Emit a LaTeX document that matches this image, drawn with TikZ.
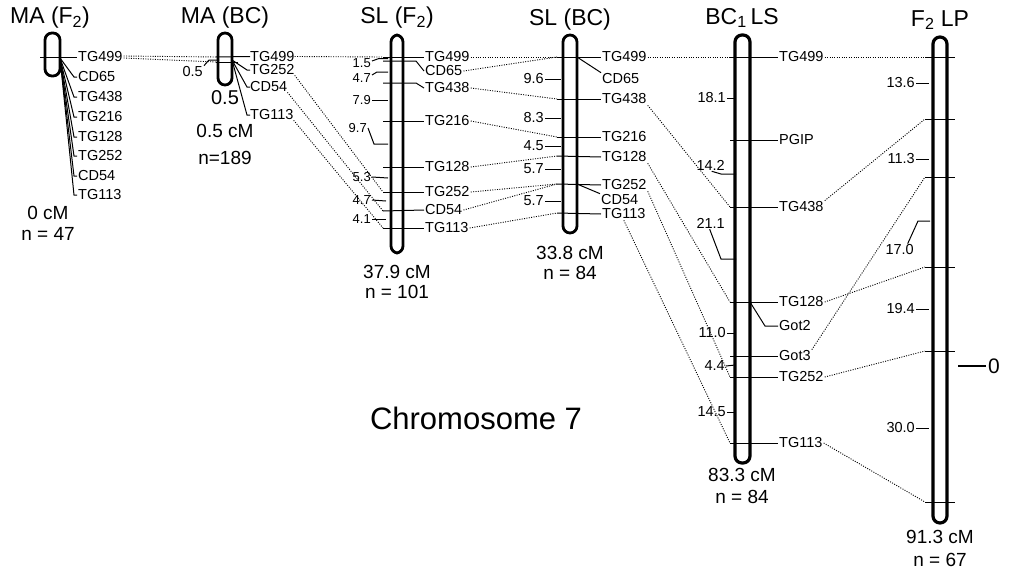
\documentclass[tikz,border=0pt]{standalone}
\usepackage{fontspec}
\setmainfont{Liberation Sans}
\begin{document}
\begin{tikzpicture}[x=1pt,y=-1pt,
  chrom/.style={line width=2.8pt, rounded corners=7pt},
  chromb/.style={line width=3.2pt, rounded corners=7pt},
  mk/.style={line width=1pt},
  lab/.style={font=\fontsize{14.5}{14.5}\selectfont, inner sep=1pt, anchor=west},
  num/.style={font=\fontsize{14.5}{14.5}\selectfont, inner sep=1pt, anchor=east},
  snum/.style={font=\fontsize{13}{13}\selectfont, inner sep=1pt, anchor=east},
  ttl/.style={font=\fontsize{23}{23}\selectfont, inner sep=0pt},
  foot/.style={font=\fontsize{19}{19}\selectfont, inner sep=0pt},
  dot/.style={line width=0.9pt, dash pattern=on 1pt off 1.4pt}]
\useasboundingbox (0,0) rectangle (1013,571);

% ---------------- MA (F2)
\draw[chrom] (45,33) rectangle (60,76);
\node[ttl] (At) at (50,18) {MA (F\textsubscript{2})};
\foreach \nm/\tx/\yy in {499/TG499/57, 65/CD65/77, 438/TG438/97, 216/TG216/117, 128/TG128/137, 252/TG252/156, 54/CD54/176, 113/TG113/195}
  \node[lab] (A\nm) at (77,\yy) {\tx};
\coordinate (Ao) at (40,57);
\draw[mk] (Ao) -- (A499.west);
\coordinate (Af) at (60,58);
\foreach \nm in {65,438,216,128,252,54,113}
  \draw[mk] (Af) -- ([xshift=-3pt]A\nm.west) -- (A\nm.west);
\node[foot] (Acm) at (48,213) {0 cM};
\node[foot] (An) at (48,234) {n = 47};

% ---------------- MA (BC)
\draw[chrom] (218,33) rectangle (232,85);
\node[ttl] (Bt) at (225,18) {MA (BC)};
\foreach \nm/\tx/\yy in {499/TG499/56.5, 252/TG252/70, 54/CD54/87, 113/TG113/115}
  \node[lab, inner sep=0pt] (B\nm) at (250,\yy) {\tx};
\coordinate (Bl1) at (216,57);
\coordinate (Bl2) at (216,62);
\coordinate (Br2) at (238,62);
\draw[mk] (Bl1) -- (B499.west);
\draw[mk] (Bl2) -- (Br2);
\coordinate (Bf) at (232,60);
\foreach \nm in {252,54,113}
  \draw[mk] (Bf) -- ([xshift=-3pt]B\nm.west) -- (B\nm.west);
\node[lab, anchor=east] (Bnum) at (204,72) {0.5};
\coordinate (Bn1) at (209,60);
\coordinate (Bn2) at (219,60);
\draw[mk] (Bnum.north east) -- (Bn1) -- (Bn2);
\node[font=\fontsize{20}{20}\selectfont, inner sep=0pt] (Bhalf) at (225,98) {0.5};
\node[foot] (Bcm) at (225,131) {0.5 cM};
\node[foot] (Bn) at (225,158) {n=189};
\draw[dot] ([yshift=1pt]A499.east) -- (Bl1);
\draw[dot] ([yshift=-1pt]A499.east) -- (Bl2);

% ---------------- SL (F2)
\draw[chrom] (391,35) rectangle (403,253);
\node[ttl] (Ct) at (397,18) {SL (F\textsubscript{2})};
\foreach \nm/\tx/\yy in {499/TG499/57, 65/CD65/71, 438/TG438/88, 216/TG216/121, 128/TG128/167, 252/TG252/192, 54/CD54/210, 113/TG113/228}
  \node[lab] (C\nm t) at (424,\yy) {\tx};
\foreach \nm/\yy in {499/57, 65/61, 438/83, 216/121, 128/167, 252/192, 54/211, 113/228}
  \coordinate (C\nm) at (383,\yy);
\coordinate (C65b) at (416,61);
\coordinate (C438b) at (416,83);
\foreach \nm in {499,216,128,252,54,113}
  \draw[mk] (C\nm) -- (C\nm t.west);
\draw[mk] (C65) -- (C65b) -- (C65t.west);
\draw[mk] (C438) -- (C438b) -- (C438t.west);
% interval numbers
\node[snum] (C15) at (372,63) {1.5};
\draw[mk] ([yshift=2pt]C15.east) -- (379,58.5) -- (388,58.5);
\node[snum] (C47a) at (372,78) {4.7};
\draw[mk] ([yshift=3pt]C47a.east) -- (377,72) -- (388,72);
\node[snum] (C79) at (372,100) {7.9};
\draw[mk] (C79.east) -- (388,100);
\node[snum] (C97) at (368,128) {9.7};
\draw[mk] (C97.east) -- (374,144) -- (388,144);
\node[snum] (C53) at (372,177) {5.3};
\draw[mk] (C53.east) -- (388,178);
\node[snum] (C47b) at (372,200) {4.7};
\draw[mk] (C47b.east) -- (386,201);
\node[snum] (C41) at (372,219) {4.1};
\draw[mk] (C41.east) -- (386,219);
\node[foot] (Ccm) at (397,272) {37.9 cM};
\node[foot] (Cn) at (397,292) {n = 101};
% dotted B -> C
\draw[dot] (B499.east) -- (C499);
\draw[dot] (B252.south east) -- (C252);
\draw[dot] (B54.south east) -- (C54);
\draw[dot] (B113.south east) -- (C113);

% ---------------- SL (BC)
\draw[chrom] (563,35) rectangle (577,233);
\node[ttl] (Dt) at (570,20) {SL (BC)};
\foreach \nm/\tx/\yy in {499/TG499/57, 438/TG438/99, 216/TG216/137, 128/TG128/157, 252/TG252/185, 113/TG113/214}
  \node[lab] (D\nm t) at (601,\yy) {\tx};
\node[lab] (D65t) at (601,79) {CD65};
\node[lab] (D54t) at (600,200) {CD54};
\foreach \nm/\yy in {499/57, 438/99, 216/137, 128/156, 252/184, 113/213}
  \coordinate (D\nm) at (557,\yy);
\foreach \nm in {499,438,216,128,252,113}
  \draw[mk] (D\nm) -- (D\nm t.west);
\coordinate (D65a) at (577,57);
\coordinate (D54a) at (577,184);
\draw[mk] (D65a) -- (D65t.north west);
\draw[mk] (D54a) -- (D54t.north west);
\foreach \nm/\tx/\yy in {a/9.6/79, b/8.3/118, c/4.5/146, d/5.7/169, e/5.7/201}
  {\node[num] (Dn\nm) at (545,\yy) {\tx};
   \draw[mk] (Dn\nm.east) -- (561,\yy);}
\node[foot] (Dcm) at (570,253) {33.8 cM};
\node[foot] (Dn) at (570,273) {n = 84};
% dotted C -> D
\draw[dot] (C499t.east) -- (D499);
\draw[dot] (C65t.east) -- (D499);
\draw[dot] (C438t.east) -- (D438);
\draw[dot] (C216t.east) -- (D216);
\draw[dot] (C128t.east) -- (D128);
\draw[dot] (C252t.east) -- (D252);
\draw[dot] (C54t.east) -- (D252);
\draw[dot] (C113t.east) -- (D113);

% ---------------- BC1 LS
\draw[chromb] (735,35) rectangle (750,463);
\node[ttl] (Et) at (742,18) {BC\textsubscript{1}\,LS};
\foreach \nm/\tx/\yy in {499/TG499/57, P/PGIP/140, 438/TG438/207, 128/TG128/302, G3/Got3/356, 252/TG252/377, 113/TG113/443}
  \node[lab] (E\nm t) at (778,\yy) {\tx};
\foreach \nm/\yy in {499/57, P/140, 438/207, 128/302, G3/356, 252/377, 113/443}
  \coordinate (E\nm) at (730,\yy);
\foreach \nm in {499,P,438,128,G3,252,113}
  \draw[mk] (E\nm) -- (E\nm t.west);
\node[lab] (EG2t) at (778,326) {Got2};
\coordinate (EG2a) at (750,302);
\coordinate (EG2b) at (765,326);
\draw[mk] (EG2a) -- (EG2b) -- (EG2t.west);
\node[num] (E181) at (727,98) {18.1};
\draw[mk] (E181.east) -- (736,98);
\node[num] (E142) at (726,165) {14.2};
\draw[mk] ([xshift=1pt]E142.south) -- (721,174) -- (736,174);
\node[num] (E211) at (726,223) {21.1};
\draw[mk] ([xshift=-1pt]E211.south) -- (721,259) -- (736,259);
\node[num] (E110) at (727,333) {11.0};
\draw[mk] (E110.east) -- (736,333);
\node[num] (E44) at (726,366) {4.4};
\draw[mk] (E44.east) -- (735,365);
\node[num] (E145) at (727,412) {14.5};
\draw[mk] (E145.east) -- (736,412);
\node[foot] (Ecm) at (742,475) {83.3 cM};
\node[foot] (En) at (742,497) {n = 84};
% dotted D -> E
\draw[dot] (D499t.east) -- (E499);
\draw[dot] (D438t.south east) -- (E438);
\draw[dot] (D128t.south east) -- (E128);
\draw[dot] (D252t.south east) -- (E252);
\draw[dot] (D113t.south) -- (E113);

% ---------------- F2 LP
\draw[chromb] (933,37) rectangle (947,523);
\node[ttl] (Ft) at (940,20) {F\textsubscript{2} LP};
\foreach \nm/\yy in {1/57, 2/119, 3/177, 4/267, 5/351, 6/502}
  {\coordinate (F\nm) at (925,\yy);
   \coordinate (F\nm r) at (955,\yy);
   \draw[mk] (F\nm) -- (F\nm r);}
\foreach \nm/\tx/\yy in {a/13.6/83, b/11.3/159, d/19.4/309, e/30.0/428}
  {\node[num] (Fn\nm) at (916,\yy) {\tx};
   \draw[mk] (Fn\nm.east) -- (929,\yy);}
\node[num] (Fnc) at (915,250) {17.0};
\coordinate (Fc1) at (918,221);
\coordinate (Fc2) at (930,221);
\draw[mk] ([xshift=8pt]Fnc.north) -- (Fc1) -- (Fc2);
\coordinate (Fz1) at (958,366);
\coordinate (Fz2) at (986,366);
\draw[line width=2.6pt] (Fz1) -- (Fz2);
\node[font=\fontsize{21}{21}\selectfont, inner sep=0pt] (Fzero) at (994,366) {0};
\node[foot] (Fcm) at (940,537) {91.3 cM};
\node[foot] (Fn) at (940,560) {n = 67};
% dotted E -> F
\draw[dot] (E499t.east) -- (F1);
\draw[dot] (E438t.north east) -- (F2);
\draw[dot] (EG3t.north east) -- (F3);
\draw[dot] (E128t.east) -- (F4);
\draw[dot] (E252t.east) -- (F5);
\draw[dot] (E113t.east) -- (F6);

% ---------------- caption
\node[font=\fontsize{31}{31}\selectfont, inner sep=0pt] (cap) at (476,418) {Chromosome 7};
\end{tikzpicture}
\end{document}
